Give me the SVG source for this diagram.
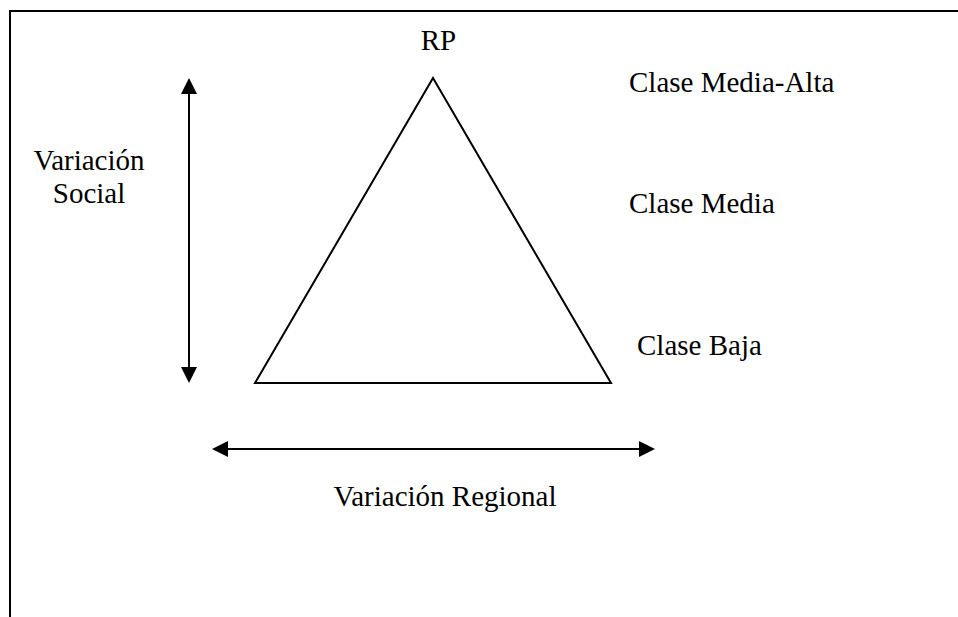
<svg xmlns="http://www.w3.org/2000/svg" width="958" height="617" viewBox="0 0 958 617">
<style>
.t{font-family:"Liberation Serif","Times New Roman",serif;font-size:29px;fill:#000}
.ln{fill:none;stroke:#000;stroke-width:2}
</style>
<defs>
<marker id="ah" markerUnits="userSpaceOnUse" markerWidth="16" markerHeight="16" viewBox="0 0 16 16" refX="14" refY="8" orient="auto-start-reverse">
<path d="M0,0 L16,8 L0,16 Z" fill="#000"/>
</marker>
</defs>
<rect width="958" height="617" fill="#fff"/>
<path id="frame" class="ln" d="M10,617 V11 H958"/>
<g id="triangle">
<polygon class="ln" points="433,78 611,383 255,383"/>
</g>
<g id="connectors">
<line class="ln" x1="189" y1="80" x2="189" y2="381" marker-start="url(#ah)" marker-end="url(#ah)"/>
<line class="ln" x1="214" y1="449" x2="653" y2="449" marker-start="url(#ah)" marker-end="url(#ah)"/>
</g>
<g id="rp"><text class="t" x="438.5" y="50" text-anchor="middle">RP</text></g>
<g id="social"><text class="t" x="89" y="170" text-anchor="middle">Variación</text><text class="t" x="89" y="203" text-anchor="middle">Social</text></g>
<g id="alta"><text class="t" x="629" y="92">Clase Media-Alta</text></g>
<g id="media"><text class="t" x="629" y="213">Clase Media</text></g>
<g id="baja"><text class="t" x="637" y="355">Clase Baja</text></g>
<g id="regional"><text class="t" x="445" y="506" text-anchor="middle">Variación Regional</text></g>
</svg>
